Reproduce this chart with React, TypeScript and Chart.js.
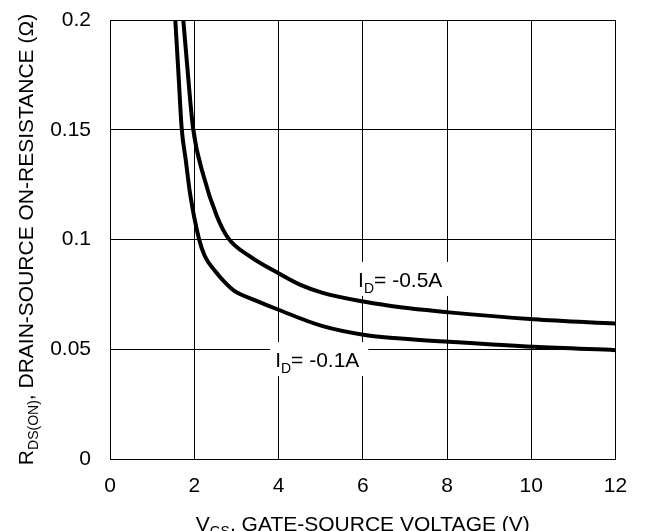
import React, { useEffect, useRef } from "react";
import { Chart, registerables } from "chart.js";

Chart.register(...registerables);

// I_D = -0.5A curve
const vgsHigh = [1.74, 1.82, 1.97, 2.22, 2.54, 2.81, 3.33, 4.0, 4.52, 5.05, 6.05, 6.9, 8.05, 10.05, 12];
const rdsHigh = [0.2, 0.182, 0.151, 0.129, 0.1105, 0.1005, 0.0922, 0.0846, 0.0793, 0.0757, 0.0716, 0.0691, 0.0668, 0.0637, 0.0617];

// I_D = -0.1A curve
const vgsLow = [1.55, 1.63, 1.7, 1.8, 1.9, 2.11, 2.25, 2.5, 2.7, 2.95, 3.45, 4.0, 5.05, 6.05, 6.9, 8.05, 10.05, 12];
const rdsLow = [0.2, 0.174, 0.151, 0.136, 0.121, 0.1005, 0.0925, 0.0855, 0.081, 0.0766, 0.0723, 0.068, 0.0605, 0.0565, 0.0549, 0.0534, 0.0511, 0.0496];

const xTicks = [0, 2, 4, 6, 8, 10, 12];
const xTickLabels = ["0", "2", "4", "6", "8", "10", "12"];
const yTicks = [0, 0.05, 0.1, 0.15, 0.2];
const yTickLabels = ["0", "0.05", "0.1", "0.15", "0.2"];

const seriesNames = ["-0.5A", "-0.1A"];

const FONT = "'Liberation Sans', Arial, sans-serif";

type Part = { t: string; sub?: boolean };

function richWidth(ctx: CanvasRenderingContext2D, parts: Part[], size: number, subSize: number) {
  let w = 0;
  for (const p of parts) {
    ctx.font = `${p.sub ? subSize : size}px ${FONT}`;
    w += ctx.measureText(p.t).width;
  }
  return w;
}

function drawRich(ctx: CanvasRenderingContext2D, parts: Part[], x: number, y: number, size: number, subSize: number, subDrop: number) {
  let cx = x;
  ctx.textBaseline = "alphabetic";
  ctx.textAlign = "left";
  ctx.fillStyle = "#000";
  for (const p of parts) {
    ctx.font = `${p.sub ? subSize : size}px ${FONT}`;
    ctx.fillText(p.t, cx, p.sub ? y + subDrop : y);
    cx += ctx.measureText(p.t).width;
  }
}

const curveLabels = [
  { x: 5.89, y: 0.0784, parts: [{ t: "I" }, { t: "D", sub: true }, { t: "= " + seriesNames[0] }] as Part[] },
  { x: 3.92, y: 0.0419, parts: [{ t: "I" }, { t: "D", sub: true }, { t: "= " + seriesNames[1] }] as Part[] },
];

const textPlugin = {
  id: "textPlugin",
  beforeDatasetsDraw(chart: any) {
    const { ctx, scales } = chart;
    const xs = scales.x;
    const ys = scales.y;
    ctx.save();
    for (const l of curveLabels) {
      const px = xs.getPixelForValue(l.x);
      const py = ys.getPixelForValue(l.y);
      const w = richWidth(ctx, l.parts, 21, 14);
      ctx.fillStyle = "#fff";
      ctx.fillRect(px - 5, py - 25, w + 14, 34);
      drawRich(ctx, l.parts, px, py, 21, 14, 6);
    }
    ctx.restore();
  },
  afterDraw(chart: any) {
    const { ctx, chartArea } = chart;
    ctx.save();
    // x title
    const xParts: Part[] = [{ t: "V" }, { t: "GS", sub: true }, { t: ", GATE-SOURCE VOLTAGE (V)" }];
    const xw = richWidth(ctx, xParts, 21, 14);
    const xc = (chartArea.left + chartArea.right) / 2;
    drawRich(ctx, xParts, xc - xw / 2, chartArea.bottom + 72, 21, 14, 5);
    // y title
    const yParts: Part[] = [{ t: "R" }, { t: "DS(ON)", sub: true }, { t: ", DRAIN-SOURCE ON-RESISTANCE (Ω)" }];
    const yw = richWidth(ctx, yParts, 21, 14);
    const yc = (chartArea.top + chartArea.bottom) / 2;
    ctx.translate(chartArea.left - 77, yc);
    ctx.rotate(-Math.PI / 2);
    drawRich(ctx, yParts, -yw / 2, 0, 21, 14, 5);
    ctx.restore();
  },
};

export default function App() {
  const ref = useRef<HTMLCanvasElement | null>(null);
  useEffect(() => {
    if (!ref.current) return;
    const chart = new Chart(ref.current, {
      type: "line",
      data: {
        datasets: [
          {
            label: "ID = " + seriesNames[0],
            data: vgsHigh.map((v, i) => ({ x: v, y: rdsHigh[i] })),
            borderColor: "#000",
            borderWidth: 4,
            pointRadius: 0,
            fill: false,
            cubicInterpolationMode: "monotone",
            clip: 0,
          },
          {
            label: "ID = " + seriesNames[1],
            data: vgsLow.map((v, i) => ({ x: v, y: rdsLow[i] })),
            borderColor: "#000",
            borderWidth: 4,
            pointRadius: 0,
            fill: false,
            cubicInterpolationMode: "monotone",
            clip: 0,
          },
        ],
      },
      options: {
        responsive: false,
        animation: false,
        devicePixelRatio: 1,
        layout: { padding: { top: 20, right: 29.5, left: 0, bottom: 0 } },
        plugins: { legend: { display: false }, tooltip: { enabled: false }, title: { display: false } },
        scales: {
          x: {
            type: "linear",
            min: xTicks[0],
            max: xTicks[xTicks.length - 1],
            afterBuildTicks: (s: any) => {
              s.ticks = xTicks.map((v) => ({ value: v }));
            },
            afterFit: (s: any) => {
              s.height = 72;
              s.paddingLeft = 0;
              s.paddingRight = 0;
            },
            ticks: {
              color: "#000",
              font: { family: FONT, size: 21 },
              padding: 15,
              maxRotation: 0,
              autoSkip: false,
              callback: (v: any) => {
                const i = xTicks.findIndex((t) => Math.abs(t - Number(v)) < 1e-9);
                return i >= 0 ? xTickLabels[i] : "";
              },
            },
            grid: { color: "#000", lineWidth: 1, drawTicks: false },
            border: { color: "#000", width: 1 },
          },
          y: {
            type: "linear",
            min: yTicks[0],
            max: yTicks[yTicks.length - 1],
            afterBuildTicks: (s: any) => {
              s.ticks = yTicks.map((v) => ({ value: v }));
            },
            afterFit: (s: any) => {
              s.width = 110;
              s.paddingTop = 0;
              s.paddingBottom = 0;
            },
            ticks: {
              color: "#000",
              font: { family: FONT, size: 21 },
              padding: 19,
              autoSkip: false,
              callback: (v: any) => {
                const i = yTicks.findIndex((t) => Math.abs(t - Number(v)) < 1e-9);
                return i >= 0 ? yTickLabels[i] : "";
              },
            },
            grid: { color: "#000", lineWidth: 1, drawTicks: false },
            border: { color: "#000", width: 1 },
          },
        },
      },
      plugins: [textPlugin],
    } as any);
    return () => chart.destroy();
  }, []);
  return (
    <div style={{ position: "absolute", left: 0, top: 0, width: 645, height: 531, background: "#fff" }}>
      <canvas ref={ref} width={645} height={531} style={{ width: 645, height: 531, display: "block" }} />
    </div>
  );
}
